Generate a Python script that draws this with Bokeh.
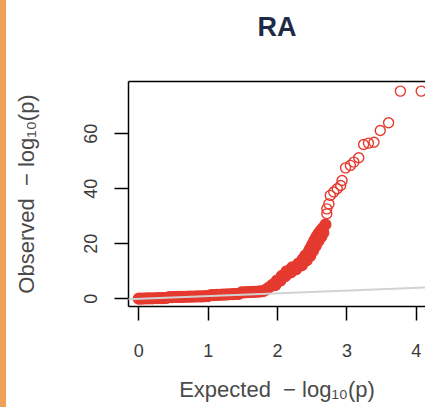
from bokeh.plotting import figure
from bokeh.models import Range1d, FixedTicker, LinearAxis, Slope
from bokeh.embed import file_html
from bokeh.resources import INLINE

# ---- data (expected vs observed -log10 p) ----
# dense part of the curve (points so close together that they merge into a solid band)
dense_expected = [
    0.00, 0.04, 0.08, 0.12, 0.16, 0.20, 0.24, 0.28, 0.32, 0.36, 0.40,
    0.44, 0.48, 0.52, 0.56, 0.60, 0.64, 0.68, 0.72, 0.76, 0.80, 0.84, 0.88, 0.92, 0.96, 1.00,
    1.04, 1.08, 1.12, 1.16, 1.20, 1.24, 1.28, 1.32, 1.36, 1.40, 1.44,
    1.48, 1.52, 1.56, 1.60, 1.64, 1.68, 1.72, 1.76, 1.80,
    1.84, 1.88, 1.93, 1.99, 2.06, 2.13, 2.21, 2.30, 2.36, 2.40, 2.45, 2.47, 2.50, 2.53,
    2.56, 2.59, 2.62, 2.65, 2.69,
    1.97, 2.04, 2.11, 2.19, 2.27, 2.35, 2.42, 2.47, 2.51, 2.55, 2.59, 2.63, 2.66,
]
dense_observed = [
    0.05, 0.08, 0.10, 0.12, 0.15, 0.18, 0.20, 0.22, 0.25, 0.28, 0.30,
    0.60, 0.62, 0.65, 0.68, 0.70, 0.72, 0.75, 0.78, 0.80, 0.82, 0.85, 0.88, 0.90, 0.95, 1.00,
    1.30, 1.35, 1.40, 1.45, 1.50, 1.55, 1.60, 1.65, 1.70, 1.75, 1.80,
    2.30, 2.35, 2.40, 2.45, 2.50, 2.55, 2.60, 2.70, 2.90,
    3.4, 4.2, 5.2, 6.6, 8.3, 10.0, 11.4, 12.8, 14.3, 15.7, 17.2, 18.3, 19.7, 21.2,
    22.5, 23.7, 24.7, 25.6, 27.0,
    5.0, 6.6, 8.2, 9.6, 10.8, 12.2, 14.0, 15.6, 17.4, 19.2, 21.0, 22.6, 24.0,
]
# sparse top hits, drawn as separate open circles
top_expected = [
    2.71, 2.71, 2.74, 2.76, 2.81, 2.86, 2.91, 2.93, 2.98, 3.05, 3.10, 3.17,
    3.24, 3.31, 3.39, 3.48, 3.60, 3.77, 4.07,
]
top_observed = [
    30.9, 32.7, 34.5, 37.6, 38.8, 40.0, 41.2, 43.0, 47.6, 48.5, 49.7, 51.3,
    56.1, 56.6, 56.9, 61.2, 64.0, 75.5, 75.5,
]
x_ticks = [0, 1, 2, 3, 4]
y_ticks = [0, 20, 40, 60]
title_text = "RA"
x_label = "Expected\u00a0\u00a0−\u00a0log₁₀(p)"
y_label = "Observed\u00a0\u00a0−\u00a0log₁₀(p)"

FONT = "Liberation Sans"
RED = "#e53a2f"

p = figure(
    width=425, height=407,
    output_backend="svg", toolbar_location=None,
    x_range=Range1d(-0.148, 4.132), y_range=Range1d(-2.8, 79.0),
    min_border_left=128, min_border_right=0, min_border_top=81, min_border_bottom=101,
)
p.outline_line_color = None
p.grid.visible = False
p.background_fill_color = "white"
p.border_fill_color = None
# white page with the thin orange strip at its left edge
p.styles = {"background": "linear-gradient(90deg, #efa257 0px, #efa257 6px, #ffffff 6px, #ffffff 100%)"}

# axes
for ax in (p.xaxis[0], p.yaxis[0]):
    ax.axis_line_color = "black"
    ax.axis_line_width = 1.5
    ax.major_tick_line_color = "black"
    ax.major_tick_line_width = 1.5
    ax.major_tick_out = 14
    ax.major_tick_in = 0
    ax.minor_tick_line_color = None
    ax.major_label_text_font = FONT
    ax.major_label_text_font_size = "18px"
    ax.major_label_text_color = "#3a3a3a"
    ax.axis_label_text_font = FONT
    ax.axis_label_text_font_size = "22px"
    ax.axis_label_text_font_style = "normal"
    ax.axis_label_text_color = "#4a4a4a"

p.xaxis[0].ticker = FixedTicker(ticks=x_ticks)
p.yaxis[0].ticker = FixedTicker(ticks=y_ticks)
p.xaxis[0].axis_label = x_label
p.yaxis[0].axis_label = y_label
p.xaxis[0].major_label_standoff = 23
p.xaxis[0].axis_label_standoff = 17
p.yaxis[0].major_label_orientation = "vertical"
p.yaxis[0].major_label_standoff = 17
p.yaxis[0].axis_label_standoff = 43

# top border of the box, carrying the chart title
top = LinearAxis(
    ticker=FixedTicker(ticks=[]),
    major_label_text_font_size="0px",
    major_tick_out=0, major_tick_in=0, minor_tick_out=0, minor_tick_in=0,
    major_label_standoff=0,
    axis_line_color="black", axis_line_width=1.5,
    axis_label=title_text,
    axis_label_text_font=FONT,
    axis_label_text_font_size="27px",
    axis_label_text_font_style="bold",
    axis_label_text_color="#1e2a48",
    axis_label_standoff=40,
)
p.add_layout(top, "above")

# points
p.scatter(dense_expected, dense_observed, marker="circle", size=11,
          fill_color=RED, line_color=RED, line_width=1.2)
p.scatter(top_expected, top_observed, marker="circle", size=10,
          fill_color=None, line_color=RED, line_width=1.4)

# reference line y = x
p.add_layout(Slope(gradient=1, y_intercept=0, line_color="#d2d2d2", line_width=2))

open("out.html", "w").write(file_html(p, INLINE))
